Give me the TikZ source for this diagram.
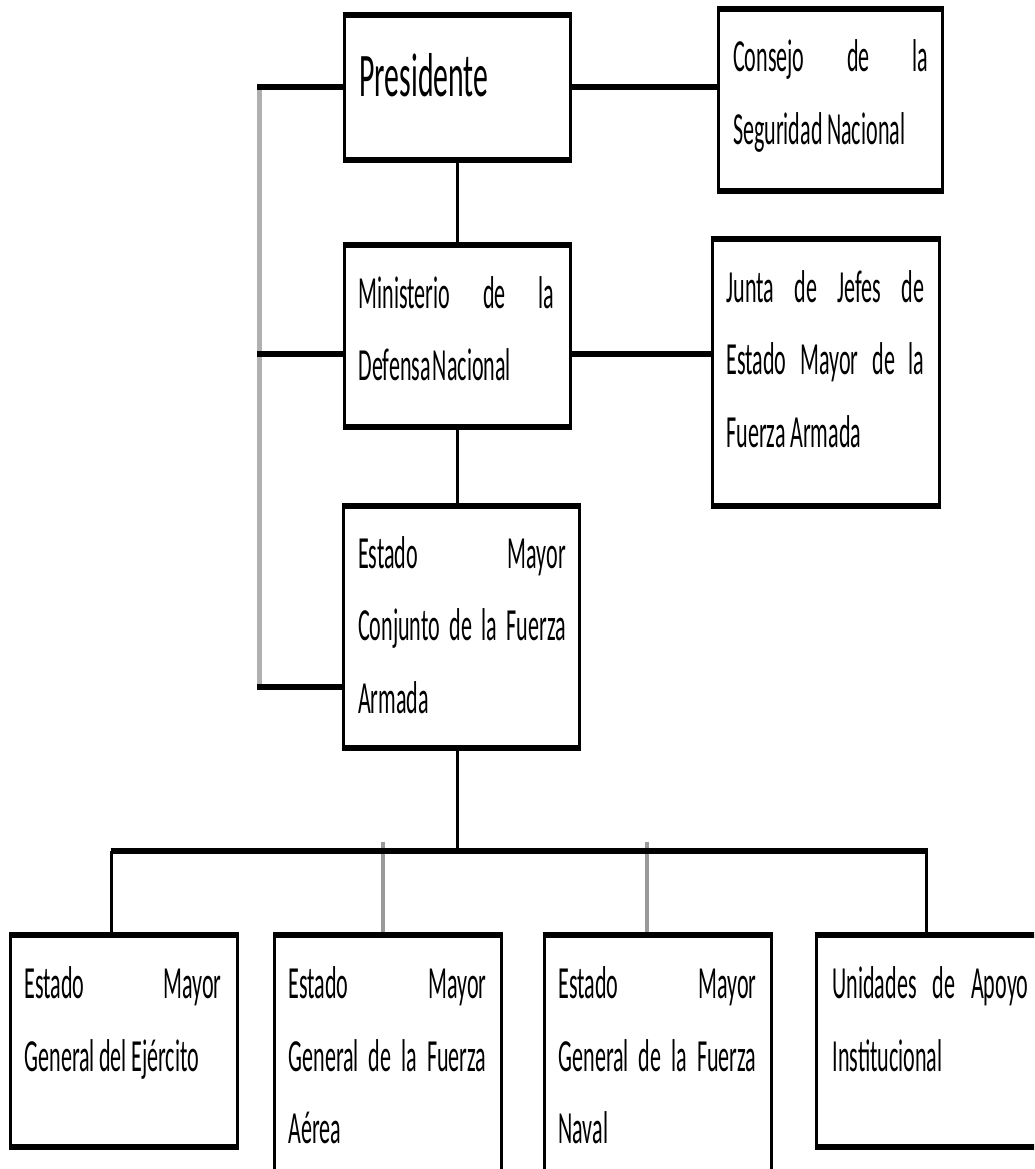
\documentclass[tikz,border=0pt]{standalone}
\usepackage{fontspec}
\setmainfont{Carlito}[FakeStretch=0.48]
\usetikzlibrary{calc}
\newcommand\jl[2]{\leavevmode\hbox to #1{#2}}
\newcommand\gap{\hspace{4.5pt}}
\newcommand\frameit[1]{%
 \draw[hside] ([xshift=-1.5pt]#1.north west) -- ([xshift=1.5pt]#1.north east);
 \draw[hside] ([xshift=-1.5pt]#1.south west) -- ([xshift=1.5pt]#1.south east);
 \draw[vside] (#1.north west) -- (#1.south west);
 \draw[vside] (#1.north east) -- (#1.south east);}
\tikzset{
 boxnode/.style={inner sep=0pt, draw=none, rectangle},
 hside/.style={line width=6pt, black},
 vside/.style={line width=3pt, black},
 hconn/.style={line width=6pt, black},
 vconn/.style={line width=2.2pt, black},
 rail/.style={line width=5pt, color=railgray},
 gconn/.style={line width=3.5pt, color=dropgray},
 body/.style={anchor=north west, inner sep=0pt, align=left,
   font=\fontsize{46}{72.5}\selectfont},
}
\definecolor{railgray}{HTML}{B0B0B0}
\definecolor{dropgray}{HTML}{9A9A9A}
\begin{document}
\begin{tikzpicture}[x=1pt,y=-1pt]
\useasboundingbox (0,0) rectangle (1034,1169);
\clip (0,0) rectangle (1034,1169);
\fill[white] (0,0) rectangle (1034,1169);
% boxes
\node[boxnode, minimum width=226pt, minimum height=145pt] (pres) at (457.5,87.5) {};
\node[boxnode, minimum width=223.5pt, minimum height=182pt] (cons) at (830.75,100) {};
\node[boxnode, minimum width=226pt, minimum height=182pt] (min) at (457.5,336) {};
\node[boxnode, minimum width=227pt, minimum height=267pt] (junta) at (826,372.5) {};
\node[boxnode, minimum width=235pt, minimum height=242pt] (est) at (461.5,627) {};
\node[boxnode, minimum width=227pt, minimum height=211pt] (b1) at (124,1041) {};
\node[boxnode, minimum width=227pt, minimum height=264.5pt] (b2) at (388,1067.75) {};
\node[boxnode, minimum width=227pt, minimum height=264.5pt] (b3) at (658,1067.75) {};
\node[boxnode, minimum width=228.5pt, minimum height=211pt] (b4) at (930.75,1041) {};
% connector coordinates
\coordinate (railtop) at (259.5,85);
\coordinate (railbot) at (259.5,690);
\coordinate (r1) at (257,87.5);
\coordinate (r2) at (257,354);
\coordinate (r3) at (257,687);
\coordinate (bus) at (457.5,851);
\coordinate (busL) at (111.5,851);
\coordinate (busR) at (926.5,851);
\coordinate (d2) at (383,842);
\coordinate (d3) at (647,842);
% connectors
\draw[rail] (railtop) -- (railbot);
\draw[hconn] (r1) -- (pres.west);
\draw[hconn] (r2) -- (r2 -| min.west);
\draw[hconn] (r3) -- (r3 -| est.west);
\draw[hconn] (pres.east) -- (pres.east -| cons.west);
\draw[hconn] (r2 -| min.east) -- (r2 -| junta.west);
\draw[vconn] (pres.south) -- (min.north);
\draw[vconn] (min.south) -- (min.south |- est.north);
\draw[vconn] (min.south |- est.south) -- (bus);
\draw[gconn] (d2) -- (d2 |- b2.north);
\draw[gconn] (d3) -- (d3 |- b3.north);
\draw[hconn] ([xshift=-1pt]busL) -- ([xshift=1.5pt]busR);
\draw[vconn] (busL) -- (busL |- b1.north);
\draw[vside] (busR) -- (busR |- b4.north);
% frames
\frameit{pres}\frameit{cons}\frameit{min}\frameit{junta}\frameit{est}
\frameit{b1}\frameit{b2}\frameit{b3}\frameit{b4}
% texts
\node[anchor=base west, inner sep=0pt, font=\fontsize{62}{70}\selectfont] (tpres)
  at ($(pres.north west)+(15,82)$) {Presidente};
\node[body, text width=195.5pt] (tcons) at ($(cons.north west)+(14,23)$)
  {\rule{0pt}{40pt}\jl{195.5pt}{Consejo\hfill de\hfill la}\\Seguridad\gap Nacional};
\node[body, text width=198pt] (tmin) at ($(min.north west)+(14,23)$)
  {\rule{0pt}{40pt}\jl{196pt}{Ministerio\hfill de\hfill la}\\Defensa\hspace{2pt}Nacional};
\node[body, text width=199pt] (tjunta) at ($(junta.north west)+(14,23)$)
  {\rule{0pt}{40pt}\jl{198pt}{Junta\hfill de\hfill Jefes\hfill de}\\\jl{198pt}{Estado\hfill Mayor\hfill de\hfill la}\\Fuerza\gap Armada};
\node[body, text width=209pt] (test) at ($(est.north west)+(14,22)$)
  {\rule{0pt}{40pt}\jl{208pt}{Estado\hfill Mayor}\\\jl{208pt}{Conjunto\hfill de\hfill la\hfill Fuerza}\\Armada};
\node[body, text width=199pt] (tb1) at ($(b1.north west)+(14,23)$)
  {\rule{0pt}{40pt}\jl{197pt}{Estado\hfill Mayor}\\General\gap del\gap Ejército};
\node[body, text width=199pt] (tb2) at ($(b2.north west)+(14,23)$)
  {\rule{0pt}{40pt}\jl{198pt}{Estado\hfill Mayor}\\\jl{198pt}{General\hfill de\hfill la\hfill Fuerza}\\Aérea};
\node[body, text width=199pt] (tb3) at ($(b3.north west)+(14,23)$)
  {\rule{0pt}{40pt}\jl{198pt}{Estado\hfill Mayor}\\\jl{198pt}{General\hfill de\hfill la\hfill Fuerza}\\Naval};
\node[body, text width=199pt] (tb4) at ($(b4.north west)+(16,23)$)
  {\rule{0pt}{40pt}\jl{196pt}{Unidades\hfill de\hfill Apoyo}\\Institucional};
\end{tikzpicture}
\end{document}
